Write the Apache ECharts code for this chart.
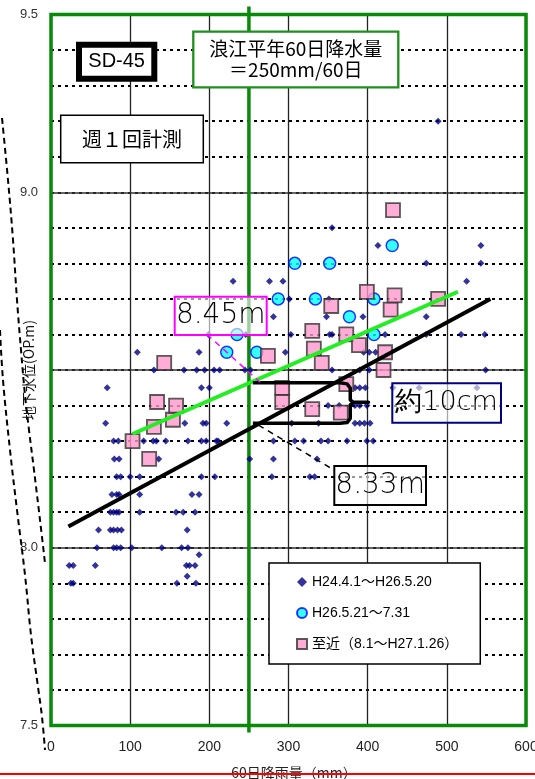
<!DOCTYPE html>
<html><head><meta charset="utf-8">
<script src="https://cdn.jsdelivr.net/npm/echarts@6/dist/echarts.min.js"></script>
<style>html,body{margin:0;padding:0;background:#fff;}#c{width:535px;height:779px;}</style>
</head><body><div id="c"></div>
<script>
// ---- axis ranges / ticks ----
const xMin = 0, xMax = 600, xStep = 100;
const yMin = 7.5, yMax = 9.5, yMinorStep = 0.1, yMajorStep = 0.5;
const yLabelValues = [9.5, 9.0, 8.0, 7.5];

// ---- series 1: H24.4.1～H26.5.20 (rows: groundwater level, rainfall values) ----
const periodA_rows = [
  [9.20, [489]],
  [8.90, [355]],
  [8.85, [413, 543]],
  [8.80, [474, 543]],
  [8.75, [230, 276, 293, 525]],
  [8.70, [301, 351]],
  [8.65, [281, 348, 394, 474]],
  [8.60, [199, 246, 303, 352, 355, 422, 474, 518, 548]],
  [8.55, [109, 187, 296, 395, 402, 410]],
  [8.50, [130, 168, 184, 194, 206, 213, 245, 252, 355, 390, 402, 549]],
  [8.45, [71, 190, 200, 384, 390, 397, 432, 465, 538]],
  [8.40, [350, 364, 384, 390, 399]],
  [8.35, [69, 169, 192, 196, 222, 304, 338, 384, 390, 396, 403]],
  [8.30, [79, 85, 117, 129, 133, 145, 173, 190, 196, 209, 211, 281, 308, 319, 341, 350, 374, 399, 407]],
  [8.25, [80, 86, 136, 251, 281, 336]],
  [8.20, [83, 88, 100, 112, 190, 207, 279, 327, 333]],
  [8.15, [77, 83, 86, 112, 178, 187]],
  [8.10, [75, 79, 83, 86, 112, 158, 167, 182]],
  [8.05, [60, 75, 79, 84, 89, 172]],
  [8.00, [58, 79, 83, 88, 102, 140, 165, 173]],
  [7.98, [187]],
  [7.95, [23, 28, 56, 171, 175, 182]],
  [7.92, [172]],
  [7.90, [25, 28, 159, 183]]
];

// ---- series 2: H26.5.21～7.31 ----
const periodB = [[222, 8.55], [235, 8.60], [260, 8.55], [287, 8.70], [308, 8.80], [334, 8.70],
  [352, 8.80], [377, 8.65], [408, 8.70], [408, 8.60], [431, 8.85]];

// ---- series 3: 至近(8.1～H27.1.26) ----
const periodC = [[103, 8.30], [124, 8.25], [130, 8.34], [134, 8.41], [143, 8.52], [154, 8.36], [158, 8.40],
  [274, 8.54], [292, 8.45], [292, 8.41], [330, 8.39], [330, 8.61], [332, 8.56], [342, 8.52], [354, 8.68],
  [366, 8.38], [373, 8.60], [373, 8.46], [389, 8.57], [399, 8.72], [420, 8.50], [422, 8.55], [429, 8.67],
  [432, 8.95], [434, 8.71], [489, 8.70]];

// ---- trend lines & annotation guides (data space) ----
const blackTrend = [[22, 8.06], [555, 8.70]];
const greenTrend = [[103, 8.32], [514, 8.72]];
const braceLine = [[255, 8.464], [365, 8.464], [374, 8.461], [378, 8.449], [378, 8.416], [382, 8.409], [401, 8.409],
  [382, 8.409], [378, 8.402], [378, 8.364], [374, 8.352], [365, 8.350], [255, 8.350]];
const leader845 = [[197, 8.60], [264, 8.466]];
const leader833 = [[262, 8.345], [355, 8.222]];
const normalRain = 250;

const periodA = [];
periodA_rows.forEach(r => r[1].forEach(x => periodA.push([x, r[0]])));

const nameA = 'H24.4.1～H26.5.20';
const nameB = 'H26.5.21～7.31';
const nameC = '至近（8.1～H27.1.26）';

const JP = '"Noto Sans CJK JP", "Liberation Sans", sans-serif';
const NUM = '"Liberation Sans", "Noto Sans CJK JP", sans-serif';
const THIN = '"DejaVu Sans", "Liberation Sans", sans-serif';

const chart = echarts.init(document.getElementById('c'), null, {renderer: 'canvas'});

function box(x, y, w, h, stroke, lw, fill, text, fs, z, family, weight) {
  return {
    type: 'group', z: z,
    children: [
      {type: 'rect', z: z, shape: {x: x, y: y, width: w, height: h},
        style: {fill: fill, stroke: stroke, lineWidth: lw}},
      {type: 'text', z: z + 1, x: x + w / 2, y: y + h / 2,
        style: {text: text, fill: '#000', font: (weight || 'normal') + ' ' + fs + 'px ' + (family || NUM), align: 'center', verticalAlign: 'middle', lineHeight: fs * 1.12}}
    ]
  };
}

const option = {
  animation: false,
  backgroundColor: '#fff',
  grid: {left: 51, right: 9, top: 14.5, bottom: 53.5, show: false, containLabel: false, outerBoundsMode: 'none'},
  xAxis: {
    type: 'value', min: xMin, max: xMax, interval: xStep,
    axisLine: {show: false}, axisTick: {show: false},
    axisLabel: {fontSize: 14, color: '#222', margin: 15, fontFamily: NUM},
    splitLine: {show: true, lineStyle: {color: '#222', width: 1.3}},
    name: '60日降雨量（mm）', nameLocation: 'middle', nameGap: 40, nameMoveOverlap: false,
    nameTextStyle: {fontSize: 14, color: '#222', fontFamily: JP, padding: [0, 0, 0, 11]}
  },
  yAxis: [{
    type: 'value', min: yMin, max: yMax, interval: yMinorStep,
    axisLine: {show: false}, axisTick: {show: false},
    axisLabel: {fontSize: 13, color: '#333', margin: 13, fontFamily: NUM,
      formatter: v => yLabelValues.some(t => Math.abs(t - v) < 1e-6) ? v.toFixed(1) : ''},
    splitLine: {show: true, showMinLine: false, showMaxLine: false,
      lineStyle: {color: '#000', width: 2, type: [3, 4]}},
    name: '地下水位(OP.m)', nameLocation: 'middle', nameGap: 15, nameRotate: 90, nameMoveOverlap: false,
    nameTextStyle: {fontSize: 14, color: '#111', fontFamily: JP}
  }, {
    type: 'value', min: yMin, max: yMax, interval: yMajorStep, position: 'left',
    axisLine: {show: false}, axisTick: {show: false}, axisLabel: {show: false},
    splitLine: {show: true, lineStyle: {color: '#333', width: 1.5}}
  }],
  legend: {
    orient: 'vertical', left: 269, top: 563, padding: [12, 22, 13, 27], itemGap: 17,
    itemWidth: 10, itemHeight: 10, borderColor: '#000', borderWidth: 1.5, backgroundColor: '#fff',
    textStyle: {fontSize: 14, color: '#000', fontFamily: NUM}, z: 60,
    data: [nameA, nameB, nameC]
  },
  series: [
    {name: nameA, type: 'scatter', symbol: 'diamond', symbolSize: 7, z: 3,
      itemStyle: {color: '#000080'}, data: periodA},
    {name: nameB, type: 'scatter', symbol: 'circle', symbolSize: 12, z: 4,
      itemStyle: {color: '#00ffff', borderColor: '#0000ff', borderWidth: 1.5}, data: periodB},
    {name: nameC, type: 'scatter', symbol: 'rect', symbolSize: 14, z: 5,
      itemStyle: {color: '#ff99cc', borderColor: '#333', borderWidth: 1.8}, data: periodC},
    {type: 'line', data: blackTrend, symbol: 'none', z: 6, lineStyle: {color: '#000', width: 4}},
    {type: 'line', data: greenTrend, symbol: 'none', z: 6, lineStyle: {color: '#22ee22', width: 4}},
    {type: 'line', data: braceLine, symbol: 'none', z: 6, lineStyle: {color: '#000', width: 3.5, join: 'round'}},
    {type: 'line', data: leader845, symbol: 'none', z: 6, lineStyle: {color: '#ff00ff', width: 1.5, type: [6, 5]}},
    {type: 'line', data: leader833, symbol: 'none', z: 6, lineStyle: {color: '#000', width: 1.5, type: [6, 5]}}
  ]
};
chart.setOption(option);

// pixel positions derived from the axes
const pTop = chart.convertToPixel({gridIndex: 0}, [xMin, yMax]);
const pBot = chart.convertToPixel({gridIndex: 0}, [xMax, yMin]);
const pRain = chart.convertToPixel({gridIndex: 0}, [normalRain, yMin]);

const graphics = [
  // normal 60-day rainfall line
  {type: 'line', z: 1, shape: {x1: pRain[0], y1: pTop[1] - 8, x2: pRain[0], y2: pBot[1] + 7},
    style: {stroke: '#0a8a0a', lineWidth: 3.5}},
  // plot border
  {type: 'rect', z: 50, shape: {x: pTop[0], y: pTop[1], width: pBot[0] - pTop[0], height: pBot[1] - pTop[1]},
    style: {fill: null, stroke: '#0a8a0a', lineWidth: 3.5}},
  // scanned dashed curves on the left
  {type: 'polyline', z: 55, shape: {points: [[2, 118], [8, 180], [13, 240], [17, 300], [21, 350], [25, 395], [29, 430], [34, 470], [40, 520], [45, 563]], smooth: 0.4},
    style: {stroke: '#000', lineWidth: 2, lineDash: [6, 4], fill: null}},
  {type: 'polyline', z: 55, shape: {points: [[0, 330], [3, 380], [10, 450], [17, 510], [25, 575], [31, 635], [38, 687], [42, 717], [45, 750]], smooth: 0.4},
    style: {stroke: '#000', lineWidth: 2, lineDash: [6, 4], fill: null}},
  // bottom red line
  {type: 'line', z: 60, shape: {x1: 0, y1: 774, x2: 535, y2: 774}, style: {stroke: '#ff0000', lineWidth: 2}},
  // boxes
  box(79, 44.7, 75.3, 34, '#000', 6, '#fff', 'SD-45', 20, 70),
  box(193.3, 31.7, 205, 55.6, '#1f8f1f', 2.3, '#fff', '浪江平年60日降水量\n＝250mm/60日', 19, 70, JP),
  box(60.7, 115.3, 142.6, 47.4, '#000', 1.5, '#fff', '週１回計測', 20, 70, JP),
  box(174.7, 296.7, 92, 38.3, '#ff00ff', 2, 'rgba(255,255,255,0.6)', '8.45m', 28, 70, THIN, 200),
  box(334.3, 466, 91.7, 39, '#000', 2, 'rgba(255,255,255,0.6)', '8.33m', 28, 70, THIN, 200),
  box(392.3, 383.3, 108.7, 39.4, '#000080', 2, 'rgba(255,255,255,0.6)', '約10cm', 27, 70, THIN, 200)
];
chart.setOption({graphic: graphics});
</script>
</body></html>
